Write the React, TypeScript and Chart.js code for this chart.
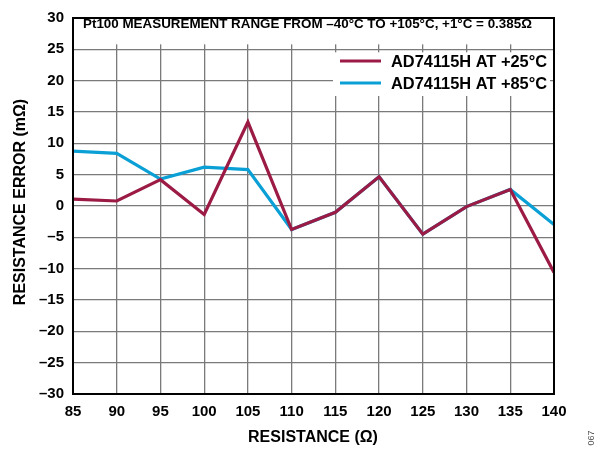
import React, { useEffect, useRef } from "react";
import { Chart, registerables } from "chart.js";

Chart.register(...registerables);

const resistance = [85, 90, 95, 100, 105, 110, 115, 120, 125, 130, 135, 140];
const errorAt25C = [1.1, 0.8, 4.2, -1.35, 13.4, -3.75, -1.0, 4.65, -4.5, -0.1, 2.65, -10.6];
const errorAt85C = [8.75, 8.4, 4.3, 6.2, 5.8, -3.75, -1.0, 4.65, -4.5, -0.1, 2.65, -2.95];
const seriesNames = ["AD74115H AT +25°C", "AD74115H AT +85°C"];
const seriesColors = ["#9b1b45", "#0aa0d6"];
const headerText = "Pt100 MEASUREMENT RANGE FROM –40°C TO +105°C, +1°C = 0.385Ω";
const xTitle = "RESISTANCE (Ω)";
const yTitle = "RESISTANCE ERROR (mΩ)";
const figureId = "067";

const FONT = '"Liberation Sans", Arial, sans-serif';

const fmt = (v: number) => (v < 0 ? "–" + Math.abs(v) : String(v));

const overlay = {
  id: "overlay",
  beforeDatasetsDraw(chart: any) {
    const { ctx, chartArea, scales } = chart;
    const y25 = scales.y.getPixelForValue(25);
    ctx.save();
    ctx.fillStyle = "#fff";
    ctx.fillRect(chartArea.left + 1, chartArea.top + 1, chartArea.right - chartArea.left - 2, y25 - 6 - chartArea.top);
    ctx.fillRect(333, y25 + 3, chartArea.right - 4 - 333, 96 - (y25 + 3));
    ctx.restore();
  },
  afterDatasetsDraw(chart: any) {
    const { ctx, chartArea } = chart;
    ctx.save();
    ctx.strokeStyle = "#000";
    ctx.lineWidth = 2;
    ctx.strokeRect(chartArea.left, chartArea.top, chartArea.right - chartArea.left, chartArea.bottom - chartArea.top);
    ctx.fillStyle = "#000";
    ctx.font = `bold 13.4px ${FONT}`;
    ctx.textBaseline = "middle";
    ctx.textAlign = "left";
    ctx.fillText(headerText, 83, 24);
    const rows = [61, 83];
    ctx.font = `bold 16.4px ${FONT}`;
    rows.forEach((yy, i) => {
      ctx.strokeStyle = seriesColors[i];
      ctx.lineWidth = 3.2;
      ctx.beginPath();
      ctx.moveTo(340, yy);
      ctx.lineTo(381, yy);
      ctx.stroke();
      ctx.fillText(seriesNames[i], 391, yy + 1);
    });
    ctx.font = `bold 16px ${FONT}`;
    ctx.textAlign = "center";
    ctx.fillText(xTitle, 313, 438);
    ctx.save();
    ctx.translate(21, 202);
    ctx.rotate(-Math.PI / 2);
    ctx.fillText(yTitle, 0, 0);
    ctx.restore();
    ctx.save();
    ctx.font = `9px ${FONT}`;
    ctx.fillStyle = "#555";
    ctx.translate(592, 438);
    ctx.rotate(-Math.PI / 2);
    ctx.fillText(figureId, 0, 0);
    ctx.restore();
    ctx.restore();
  },
};

export default function App() {
  const ref = useRef<HTMLCanvasElement | null>(null);
  useEffect(() => {
    if (!ref.current) return;
    const chart = new Chart(ref.current, {
      type: "line",
      data: {
        datasets: [
          {
            label: seriesNames[0],
            data: resistance.map((x, i) => ({ x, y: errorAt25C[i] })),
            borderColor: seriesColors[0],
            borderWidth: 3.2,
            pointRadius: 0,
            tension: 0,
          },
          {
            label: seriesNames[1],
            data: resistance.map((x, i) => ({ x, y: errorAt85C[i] })),
            borderColor: seriesColors[1],
            borderWidth: 3.2,
            pointRadius: 0,
            tension: 0,
          },
        ],
      },
      options: {
        animation: false,
        responsive: false,
        devicePixelRatio: 1,
        layout: { padding: { top: 10, right: 51, left: 0, bottom: 0 } },
        plugins: { legend: { display: false }, tooltip: { enabled: false } },
        scales: {
          x: {
            type: "linear",
            min: 85,
            max: 140,
            afterFit: (s: any) => { s.height = 57; },
            ticks: { stepSize: 5, color: "#000", padding: 9, font: { family: FONT, size: 15, weight: "bold" }, callback: (v: any) => fmt(Number(v)), maxRotation: 0 },
            grid: { color: "#7a7a7a", lineWidth: 1.3, drawTicks: false },
            border: { color: "#000", width: 2 },
          },
          y: {
            type: "linear",
            min: -30,
            max: 30,
            afterFit: (s: any) => { s.width = 73; },
            ticks: { stepSize: 5, color: "#000", padding: 9, font: { family: FONT, size: 15, weight: "bold" }, callback: (v: any) => fmt(Number(v)) },
            grid: { color: "#7a7a7a", lineWidth: 1.3, drawTicks: false },
            border: { color: "#000", width: 2 },
          },
        },
      },
      plugins: [overlay],
    } as any);
    return () => chart.destroy();
  }, []);
  return (
    <div style={{ position: "absolute", left: 0, top: 0, width: 605, height: 451, background: "#fff" }}>
      <canvas ref={ref} width={605} height={451} />
    </div>
  );
}
